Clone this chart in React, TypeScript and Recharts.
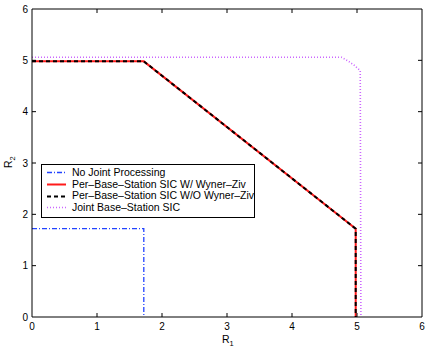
import React from 'react';
import { LineChart, Line, XAxis, YAxis } from 'recharts';

const FONT = '"Liberation Sans", Arial, Helvetica, sans-serif';

// tick values
const xTicks = [0, 1, 2, 3, 4, 5, 6];
const yTicks = [0, 1, 2, 3, 4, 5, 6];

// No Joint Processing
const noJointR1 = [0, 1.72, 1.72];
const noJointR2 = [1.72, 1.72, 0];

// Per-Base-Station SIC (both variants coincide)
const sicR1 = [0, 1.72, 4.98, 4.98];
const sicR2 = [4.98, 4.98, 1.72, 0];

// Joint Base-Station SIC
const jointR1 = [0, 4.76, 4.86, 4.96, 5.05, 5.06];
const jointR2 = [5.06, 5.06, 4.99, 4.9, 4.8, 0];

const toPoints = (r1: number[], r2: number[]) => r1.map((v, i) => ({ r1: v, r2: r2[i] }));

// the last series sits on the top/right axes (same 0..6 domain) so the box axes get drawn
const series = [
  { name: 'No Joint Processing', data: toPoints(noJointR1, noJointR2), color: '#2244ff', dash: '5 2 1 2', width: 1.3, x: 0, y: 0 },
  { name: 'Per\u2013Base\u2013Station SIC W/ Wyner\u2013Ziv', data: toPoints(sicR1, sicR2), color: '#ff1a1a', dash: undefined, width: 2, x: 0, y: 0 },
  { name: 'Per\u2013Base\u2013Station SIC W/O Wyner\u2013Ziv', data: toPoints(sicR1, sicR2), color: '#000000', dash: '4 3', width: 2, x: 0, y: 0 },
  { name: 'Joint Base\u2013Station SIC', data: toPoints(jointR1, jointR2), color: '#cc66ff', dash: '1 2', width: 1.6, x: 'top', y: 'right' },
];

const BottomTick = (props: any) => {
  const { x, y, payload } = props;
  const edge = payload.value === 0 || payload.value === 6;
  return (
    <g>
      {!edge && <line x1={x} x2={x} y1={y} y2={y - 4} stroke="#000" strokeWidth={1} />}
      <text x={x} y={y + 13} textAnchor="middle" fontSize={10} fontFamily={FONT} fill="#000">{payload.value}</text>
    </g>
  );
};

const LeftTick = (props: any) => {
  const { x, y, payload } = props;
  const edge = payload.value === 0 || payload.value === 6;
  return (
    <g>
      {!edge && <line x1={x} x2={x + 4} y1={y} y2={y} stroke="#000" strokeWidth={1} />}
      <text x={x - 4} y={y + 3.5} textAnchor="end" fontSize={10} fontFamily={FONT} fill="#000">{payload.value}</text>
    </g>
  );
};

const TopTick = (props: any) => {
  const { x, y, payload } = props;
  if (payload.value === 0 || payload.value === 6) return <g />;
  return <line x1={x} x2={x} y1={y} y2={y + 4} stroke="#000" strokeWidth={1} />;
};

const RightTick = (props: any) => {
  const { x, y, payload } = props;
  if (payload.value === 0 || payload.value === 6) return <g />;
  return <line x1={x} x2={x - 4} y1={y} y2={y} stroke="#000" strokeWidth={1} />;
};

const XLabel = (props: any) => {
  const vb = props.viewBox || {};
  const cx = vb.x + vb.width / 2;
  return (
    <text x={cx - 5} y={343} fontSize={10.5} fontFamily={FONT} fill="#000">
      R<tspan fontSize={7.5} dy={3}>1</tspan>
    </text>
  );
};

const YLabel = (props: any) => {
  const vb = props.viewBox || {};
  const cy = vb.y + vb.height / 2;
  return (
    <text x={12} y={cy + 5} transform={`rotate(-90 12 ${cy + 5})`} fontSize={10.5} fontFamily={FONT} fill="#000">
      R<tspan fontSize={7.5} dy={3}>2</tspan>
    </text>
  );
};

const LegendBox = () => (
  <div style={{ position: 'absolute', left: 41, top: 164, border: '1px solid #000', background: '#fff', width: 212, padding: '2px 0 3px 0', fontFamily: FONT, fontSize: 10.5, lineHeight: '11.7px', color: '#000' }}>
    {series.map(s => (
      <div key={s.name} style={{ display: 'flex', alignItems: 'center', whiteSpace: 'nowrap' }}>
        <svg width={30} height={11} style={{ flex: 'none' }}>
          <line x1={5} x2={24} y1={5.5} y2={5.5} stroke={s.color} strokeWidth={s.width} strokeDasharray={s.dash} />
        </svg>
        <span>{s.name}</span>
      </div>
    ))}
  </div>
);

export default function App() {
  return (
    <div style={{ position: 'absolute', left: 0, top: 0, width: 429, height: 351, background: '#fff' }}>
      <LineChart width={429} height={351} margin={{ top: 8, right: 6, left: 0, bottom: 0 }}>
        <XAxis dataKey="r1" type="number" domain={[0, 6]} ticks={xTicks} height={34} tickSize={0} tickMargin={0}
          tickLine={false} axisLine={{ stroke: '#000' }} tick={<BottomTick />} interval={0} allowDataOverflow label={<XLabel />} />
        <XAxis xAxisId="top" orientation="top" dataKey="r1" type="number" domain={[0, 6]} ticks={xTicks} height={1}
          tickSize={0} tickMargin={0} tickLine={false} axisLine={{ stroke: '#000' }} tick={<TopTick />} interval={0} allowDataOverflow />
        <YAxis dataKey="r2" type="number" domain={[0, 6]} ticks={yTicks} width={32} tickSize={0} tickMargin={0}
          tickLine={false} axisLine={{ stroke: '#000' }} tick={<LeftTick />} interval={0} allowDataOverflow label={<YLabel />} />
        <YAxis yAxisId="right" orientation="right" dataKey="r2" type="number" domain={[0, 6]} ticks={yTicks} width={1}
          tickSize={0} tickMargin={0} tickLine={false} axisLine={{ stroke: '#000' }} tick={<RightTick />} interval={0} allowDataOverflow />
        {series.map(s => (
          <Line key={s.name} data={s.data} dataKey="r2" name={s.name} type="linear" stroke={s.color}
            xAxisId={s.x} yAxisId={s.y}
            strokeWidth={s.width} strokeDasharray={s.dash} dot={false} activeDot={false} isAnimationActive={false} />
        ))}
      </LineChart>
      <LegendBox />
    </div>
  );
}
